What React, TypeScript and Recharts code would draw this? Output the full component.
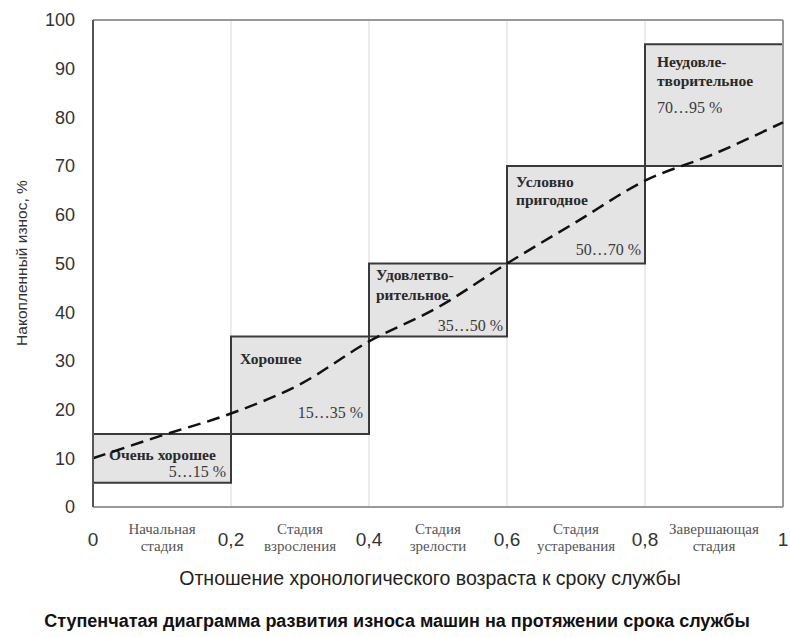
import React from "react";
import {
  ComposedChart,
  Line,
  XAxis,
  YAxis,
  ReferenceArea,
  ReferenceLine,
  CartesianGrid,
} from "recharts";

const xTicks = [0, 0.1, 0.2, 0.3, 0.4, 0.5, 0.6, 0.7, 0.8, 0.9, 1];
const xTickLabels = ["0", "0,2", "0,4", "0,6", "0,8", "1"];
const stageNames = [
  ["Начальная", "стадия"],
  ["Стадия", "взросления"],
  ["Стадия", "зрелости"],
  ["Стадия", "устаревания"],
  ["Завершающая", "стадия"],
];
const yTicks = [0, 10, 20, 30, 40, 50, 60, 70, 80, 90, 100];

const zoneStart = [0, 0.2, 0.4, 0.6, 0.8];
const zoneEnd = [0.2, 0.4, 0.6, 0.8, 1];
const zoneLow = [5, 15, 35, 50, 70];
const zoneHigh = [15, 35, 50, 70, 95];
const zoneTitles = [
  ["Очень хорошее"],
  ["Хорошее"],
  ["Удовлетво-", "рительное"],
  ["Условно", "пригодное"],
  ["Неудовле-", "творительное"],
];
const zoneRanges = ["5…15 %", "15…35 %", "35…50 %", "50…70 %", "70…95 %"];

const curveX = [0, 0.1, 0.2, 0.3, 0.4, 0.5, 0.6, 0.7, 0.8, 0.9, 1];
const curveY = [10, 14.7, 19.2, 25.2, 34, 41, 50, 58.5, 67, 72.5, 79];

const gridX = [0.2, 0.4, 0.6, 0.8];

const curveData = curveX.map((x, i) => ({ x, y: curveY[i] }));

const serif = "'Liberation Serif', 'Times New Roman', serif";
const sans = "'Liberation Sans', Arial, sans-serif";

// layout per zone label (offsets relative to each box)
const labelLayout = [
  { tx: 16, ty: [21], rAnchor: "end", rx: -5, ryFromTop: 38 },
  { tx: 9, ty: [22], rAnchor: "end", rx: -6, ryFromBottom: -21 },
  { tx: 7, ty: [11, 31], rAnchor: "end", rx: -4, ryFromBottom: -11.5 },
  { tx: 9, ty: [15, 33.5], rAnchor: "end", rx: -4, ryFromBottom: -14.5 },
  { tx: 12, ty: [17.5, 36], rAnchor: "start", rx: 12, ryFromTop: 63 },
];

function ZoneLabel(props: any) {
  const { viewBox, index } = props;
  if (!viewBox) return null;
  const { x, y, width, height } = viewBox;
  const L = labelLayout[index];
  const rx = L.rAnchor === "end" ? x + width + L.rx : x + L.rx;
  const ry =
    L.ryFromTop !== undefined ? y + L.ryFromTop : y + height + (L.ryFromBottom as number);
  return (
    <g>
      {zoneTitles[index].map((t, k) => (
        <text
          key={k}
          x={x + L.tx}
          y={y + L.ty[k]}
          dominantBaseline="central"
          fontFamily={serif}
          fontWeight="bold"
          fontSize={15.5}
          fill="#2a2a2a"
        >
          {t}
        </text>
      ))}
      <text
        x={rx}
        y={ry}
        textAnchor={L.rAnchor}
        dominantBaseline="central"
        fontFamily={serif}
        fontSize={16}
        fill="#3a3a3a"
      >
        {zoneRanges[index]}
      </text>
    </g>
  );
}

function XTick(props: any) {
  const { x, y, index } = props;
  if (index % 2 === 0) {
    return (
      <text
        x={x}
        y={y + 32}
        textAnchor="middle"
        dominantBaseline="central"
        fontFamily={sans}
        fontSize={19}
        fill="#333"
      >
        {xTickLabels[index / 2]}
      </text>
    );
  }
  const s = stageNames[(index - 1) / 2];
  return (
    <g>
      <text
        x={x}
        y={y + 22}
        textAnchor="middle"
        dominantBaseline="central"
        fontFamily={serif}
        fontSize={15}
        fill="#555"
      >
        {s[0]}
      </text>
      <text
        x={x}
        y={y + 39}
        textAnchor="middle"
        dominantBaseline="central"
        fontFamily={serif}
        fontSize={15}
        fill="#555"
      >
        {s[1]}
      </text>
    </g>
  );
}

export default function App() {
  return (
    <div style={{ position: "absolute", left: 0, top: 0, width: 790, height: 637, background: "#fff" }}>
      <ComposedChart
        width={790}
        height={637}
        data={curveData}
        margin={{ top: 20, right: 7, bottom: 0, left: 0 }}
      >
        <CartesianGrid
          horizontal={false}
          vertical={true}
          verticalValues={gridX}
          stroke="#e6e6e6"
          strokeWidth={1.5}
        />
        <XAxis
          dataKey="x"
          type="number"
          domain={[0, 1]}
          ticks={xTicks}
          interval={0}
          tickLine={false}
          tickSize={0}
          tickMargin={0}
          axisLine={{ stroke: "#999", strokeWidth: 2 }}
          height={130}
          tick={<XTick />}
        />
        <YAxis
          type="number"
          domain={[0, 100]}
          ticks={yTicks}
          interval={0}
          width={93}
          tickLine={false}
          tickSize={0}
          tickMargin={18}
          axisLine={{ stroke: "#555", strokeWidth: 2 }}
          tick={{ fontFamily: sans, fontSize: 18, fill: "#333" }}
        />
        <ReferenceLine y={100} stroke="#999" strokeWidth={2} />
        <ReferenceLine x={1} stroke="#999" strokeWidth={2} />
        {zoneStart.map((s, i) => (
          <ReferenceArea
            key={i}
            x1={s}
            x2={zoneEnd[i]}
            y1={zoneLow[i]}
            y2={zoneHigh[i]}
            fill="#e4e4e4"
            fillOpacity={1}
            stroke="#3a3a3a"
            strokeWidth={2}
            label={<ZoneLabel index={i} />}
          />
        ))}
        <Line
          dataKey="y"
          type="monotone"
          stroke="#111"
          strokeWidth={2.5}
          strokeDasharray="13 7"
          dot={false}
          isAnimationActive={false}
        />
      </ComposedChart>
      <div
        style={{
          position: "absolute",
          left: 22,
          top: 263,
          transform: "translate(-50%, -50%) rotate(-90deg)",
          whiteSpace: "nowrap",
          fontFamily: sans,
          fontSize: 15.5,
          color: "#333",
        }}
      >
        Накопленный износ, %
      </div>
      <div
        style={{
          position: "absolute",
          left: 430,
          top: 578,
          transform: "translate(-50%, -50%)",
          whiteSpace: "nowrap",
          fontFamily: sans,
          fontSize: 19.5,
          color: "#222",
        }}
      >
        Отношение хронологического возраста к сроку службы
      </div>
      <div
        style={{
          position: "absolute",
          left: 397,
          top: 621,
          transform: "translate(-50%, -50%)",
          whiteSpace: "nowrap",
          fontFamily: sans,
          fontWeight: "bold",
          fontSize: 18,
          color: "#111",
        }}
      >
        Ступенчатая диаграмма развития износа машин на протяжении срока службы
      </div>
    </div>
  );
}
